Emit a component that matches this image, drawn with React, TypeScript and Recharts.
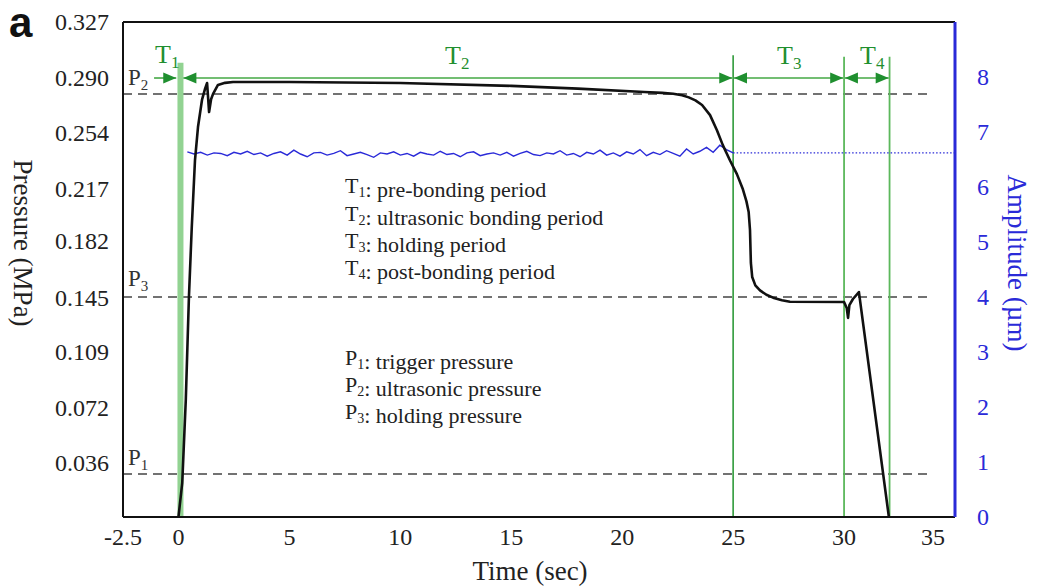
import React from 'react';
import { ComposedChart, Line, XAxis, YAxis, ReferenceLine } from 'recharts';

// ---- axis ticks ----
const timeTicks = [-2.5, 0, 5, 10, 15, 20, 25, 30, 35];
const pressureTickLabels = ['0.036', '0.072', '0.109', '0.145', '0.182', '0.217', '0.254', '0.290', '0.327'];
const amplitudeTicks = [0, 1, 2, 3, 4, 5, 6, 7, 8];

// ---- pressure curve (time s, pressure MPa) ----
const pressureTime = [
  0, 0.17, 0.33, 0.47, 0.6, 0.745, 0.88, 1.06, 1.2, 1.29, 1.34, 1.38, 1.47, 1.56, 1.78, 2.1, 2.46,
  5, 10, 15, 18, 21, 21.8, 22.3, 22.7, 23.0, 23.3, 23.6, 23.96, 24.27, 24.54, 24.86, 25.17, 25.44,
  25.6, 25.7, 25.76, 25.8, 25.86, 26.0, 26.21, 26.5, 26.8, 27.2, 27.56, 30.0, 30.12, 30.18, 30.24,
  30.4, 30.67, 32.02,
];
const pressureValues = [
  0, 0.0225, 0.0773, 0.1447, 0.1916, 0.2358, 0.2576, 0.2755, 0.283, 0.2867, 0.276, 0.2675, 0.276,
  0.2795, 0.2854, 0.2868, 0.2874, 0.2874, 0.2867, 0.2848, 0.283, 0.2808, 0.2802, 0.2796, 0.2786,
  0.2772, 0.2752, 0.2722, 0.2655, 0.2555, 0.2455, 0.2355, 0.2265, 0.2165, 0.2085, 0.2015, 0.1896,
  0.1678, 0.1585, 0.153, 0.1497, 0.1468, 0.1449, 0.1432, 0.1422, 0.142, 0.138, 0.1315, 0.14,
  0.144, 0.1486, 0,
];

// ---- amplitude signal (sampled from 0.4 s every 0.3 s, µm) ----
const ampStart = 0.4;
const ampStep = 0.3;
const ampValues = [
  6.64, 6.6, 6.63, 6.58, 6.62, 6.61, 6.57, 6.63, 6.6, 6.65,
  6.59, 6.62, 6.56, 6.61, 6.64, 6.58, 6.67, 6.6, 6.55, 6.62,
  6.63, 6.58, 6.61, 6.66, 6.57, 6.6, 6.63, 6.59, 6.54, 6.62,
  6.6, 6.64, 6.58, 6.61, 6.56, 6.63, 6.6, 6.58, 6.65, 6.59,
  6.61, 6.55, 6.62, 6.64, 6.57, 6.6, 6.62, 6.58, 6.63, 6.56,
  6.61, 6.65, 6.59, 6.57, 6.62, 6.6, 6.66, 6.58, 6.61, 6.55,
  6.63, 6.6, 6.67, 6.58, 6.62, 6.56, 6.64, 6.6, 6.68, 6.57,
  6.63, 6.59, 6.66, 6.61, 6.56, 6.69, 6.6, 6.65, 6.72, 6.63,
  6.76, 6.68, 6.62,
];

// ---- annotation levels ----
const pressureLevels = { P1: 0.0284, P2: 0.2794, P3: 0.1453 };
const dashedEnd = 33.8;
const ampHoldLevel = 6.62;
const periodTimes = { t1: 0.09, t2: 25, t3: 30, t4: 32.05 };
const arrowLevel = 0.29;
const markerTop = 0.305;
const bandTop = 0.3;

const pressureData = pressureTime.map((t, i) => ({ t, p: pressureValues[i] }));
const ampData = ampValues.map((a, i) => ({ t: +(ampStart + i * ampStep).toFixed(2), a }));

const SERIF = "'Liberation Serif', 'Times New Roman', serif";
const GREEN_DARK = '#1f8f2f';
const GREEN_LINE = '#44a844';
const BLUE = '#2a2ad8';

const makeArrow = (startHead: boolean, endHead: boolean) => (props: any) => {
  const { x1, y1, x2, y2 } = props;
  const L = 13;
  const H = 5.5;
  return (
    <g>
      <line x1={x1} y1={y1} x2={x2} y2={y2} stroke={GREEN_LINE} strokeWidth={1.6} />
      {startHead && (
        <polygon points={`${x1},${y1} ${x1 + L},${y1 - H} ${x1 + L},${y1 + H}`} fill={GREEN_DARK} />
      )}
      {endHead && (
        <polygon points={`${x2},${y2} ${x2 - L},${y2 - H} ${x2 - L},${y2 + H}`} fill={GREEN_DARK} />
      )}
    </g>
  );
};

const XTick = (props: any) => {
  const { x, y, payload } = props;
  const shift = payload.value === 35 ? -22 : 0;
  return (
    <text x={x + shift} y={y + 26} textAnchor="middle" fontFamily={SERIF} fontSize={24} fill="#222">
      {payload.value}
    </text>
  );
};

const LeftTick = (props: any) => {
  const { x, y, payload } = props;
  return (
    <text x={x - 12} y={y + 8} textAnchor="end" fontFamily={SERIF} fontSize={24} fill="#222">
      {payload.value.toFixed(3)}
    </text>
  );
};

const RightTick = (props: any) => {
  const { x, y, payload } = props;
  return (
    <text x={x + 20} y={y + 8} textAnchor="start" fontFamily={SERIF} fontSize={24} fill={BLUE}>
      {payload.value}
    </text>
  );
};

const Sub = ({ base, sub, size, subSize }: any) => (
  <>
    {base}
    <tspan fontSize={subSize} dy={size * 0.2}>{sub}</tspan>
    <tspan dy={-size * 0.2}></tspan>
  </>
);

export default function App() {
  const pressureTicks = pressureTickLabels.map((s) => parseFloat(s));
  return (
    <div style={{ position: 'absolute', left: 0, top: 0, width: 1039, height: 588, background: '#fff' }}>
      <ComposedChart
        width={1039}
        height={588}
        margin={{ top: 22, right: 34, bottom: 31, left: 53 }}
      >
        <XAxis
          dataKey="t"
          type="number"
          domain={[-2.5, 35]}
          ticks={timeTicks}
          interval={0}
          tickSize={0}
          tickLine={false}
          axisLine={{ stroke: '#111', strokeWidth: 2 }}
          tick={<XTick />}
          height={40}
          allowDataOverflow
        />
        <YAxis
          yAxisId="left"
          type="number"
          domain={[0, 0.327]}
          ticks={pressureTicks}
          interval={0}
          tickSize={0}
          tickLine={false}
          axisLine={{ stroke: '#111', strokeWidth: 2 }}
          tick={<LeftTick />}
          width={70}
          allowDataOverflow
        />
        <YAxis
          yAxisId="right"
          orientation="right"
          type="number"
          domain={[0, 9]}
          ticks={amplitudeTicks}
          interval={0}
          tickSize={0}
          tickLine={false}
          axisLine={{ stroke: BLUE, strokeWidth: 3 }}
          tick={<RightTick />}
          width={50}
          allowDataOverflow
        />

        {/* top frame */}
        <ReferenceLine yAxisId="left" y={0.327} stroke="#111" strokeWidth={2} />

        {/* pressure level dashed lines */}
        {(['P1', 'P2', 'P3'] as const).map((k) => (
          <ReferenceLine
            key={k}
            yAxisId="left"
            segment={[
              { x: -2.5, y: pressureLevels[k] },
              { x: dashedEnd, y: pressureLevels[k] },
            ]}
            stroke="#444"
            strokeWidth={1.6}
            strokeDasharray="9 6"
          />
        ))}

        {/* period markers */}
        <ReferenceLine
          yAxisId="left"
          segment={[{ x: periodTimes.t1, y: 0 }, { x: periodTimes.t1, y: bandTop }]}
          stroke="#92d392"
          strokeWidth={6}
        />
        <ReferenceLine
          yAxisId="left"
          segment={[{ x: periodTimes.t2, y: 0 }, { x: periodTimes.t2, y: markerTop }]}
          stroke="#2f9a3a"
          strokeWidth={1.6}
        />
        <ReferenceLine
          yAxisId="left"
          segment={[{ x: periodTimes.t3, y: 0 }, { x: periodTimes.t3, y: markerTop - 0.001 }]}
          stroke="#5cb85c"
          strokeWidth={1.8}
        />
        <ReferenceLine
          yAxisId="left"
          segment={[{ x: periodTimes.t4, y: 0 }, { x: periodTimes.t4, y: markerTop - 0.001 }]}
          stroke="#5cb85c"
          strokeWidth={1.8}
        />

        {/* period arrows */}
        <ReferenceLine
          yAxisId="left"
          segment={[{ x: -1.1, y: arrowLevel }, { x: -0.1, y: arrowLevel }]}
          shape={makeArrow(false, true)}
        />
        <ReferenceLine
          yAxisId="left"
          segment={[{ x: 0.22, y: arrowLevel }, { x: periodTimes.t2 - 0.04, y: arrowLevel }]}
          shape={makeArrow(true, true)}
        />
        <ReferenceLine
          yAxisId="left"
          segment={[{ x: periodTimes.t2 + 0.04, y: arrowLevel }, { x: periodTimes.t3 - 0.04, y: arrowLevel }]}
          shape={makeArrow(true, true)}
        />
        <ReferenceLine
          yAxisId="left"
          segment={[{ x: periodTimes.t3 + 0.04, y: arrowLevel }, { x: periodTimes.t4 - 0.04, y: arrowLevel }]}
          shape={makeArrow(true, true)}
        />

        {/* amplitude hold dotted line */}
        <ReferenceLine
          yAxisId="right"
          segment={[{ x: periodTimes.t2, y: ampHoldLevel }, { x: 35, y: ampHoldLevel }]}
          stroke={BLUE}
          strokeWidth={1.2}
          strokeDasharray="1.5 2"
        />

        <Line
          data={ampData}
          yAxisId="right"
          dataKey="a"
          type="linear"
          stroke={BLUE}
          strokeWidth={1.4}
          dot={false}
          isAnimationActive={false}
        />
        <Line
          data={pressureData}
          yAxisId="left"
          dataKey="p"
          type="linear"
          stroke="#111"
          strokeWidth={2.6}
          strokeLinejoin="round"
          dot={false}
          isAnimationActive={false}
        />
      </ComposedChart>

      <svg
        width={1039}
        height={588}
        style={{ position: 'absolute', left: 0, top: 0, pointerEvents: 'none' }}
      >
        <text x={9} y={37} fontFamily="'Liberation Sans', Arial, sans-serif" fontWeight="bold" fontSize={42} fill="#111">
          a
        </text>

        {/* axis titles */}
        <text
          transform="translate(23,243) rotate(90)"
          textAnchor="middle"
          dominantBaseline="central"
          fontFamily={SERIF}
          fontSize={27}
          fill="#222"
        >
          Pressure  (MPa)
        </text>
        <text
          transform="translate(1017,263) rotate(90)"
          textAnchor="middle"
          dominantBaseline="central"
          fontFamily={SERIF}
          fontSize={27}
          fill={BLUE}
        >
          Amplitude (µm)
        </text>
        <text x={530} y={580} textAnchor="middle" fontFamily={SERIF} fontSize={27} fill="#222">
          Time (sec)
        </text>

        {/* period labels */}
        <g fontFamily={SERIF} fontSize={26} fill={GREEN_DARK}>
          <text x={155} y={63}><Sub base="T" sub="1" size={26} subSize={17} /></text>
          <text x={445} y={64}><Sub base="T" sub="2" size={26} subSize={17} /></text>
          <text x={777} y={64}><Sub base="T" sub="3" size={26} subSize={17} /></text>
          <text x={860} y={64}><Sub base="T" sub="4" size={26} subSize={17} /></text>
        </g>

        {/* pressure labels */}
        <g fontFamily={SERIF} fontSize={23} fill="#333">
          <text x={128} y={85}><Sub base="P" sub="2" size={23} subSize={15} /></text>
          <text x={128} y={286}><Sub base="P" sub="3" size={23} subSize={15} /></text>
          <text x={128} y={465}><Sub base="P" sub="1" size={23} subSize={15} /></text>
        </g>

        {/* legend text */}
        <g fontFamily={SERIF} fontSize={22} fill="#222">
          <text x={345} y={193}><Sub base="T" sub="1" size={22} subSize={14} />: pre-bonding period</text>
          <text x={345} y={221}><Sub base="T" sub="2" size={22} subSize={14} />: ultrasonic bonding period</text>
          <text x={345} y={248}><Sub base="T" sub="3" size={22} subSize={14} />: holding period</text>
          <text x={345} y={275}><Sub base="T" sub="4" size={22} subSize={14} />: post-bonding period</text>

          <text x={345} y={365}><Sub base="P" sub="1" size={22} subSize={14} />: trigger pressure</text>
          <text x={345} y={392}><Sub base="P" sub="2" size={22} subSize={14} />: ultrasonic pressure</text>
          <text x={345} y={419}><Sub base="P" sub="3" size={22} subSize={14} />: holding pressure</text>
        </g>
      </svg>
    </div>
  );
}
